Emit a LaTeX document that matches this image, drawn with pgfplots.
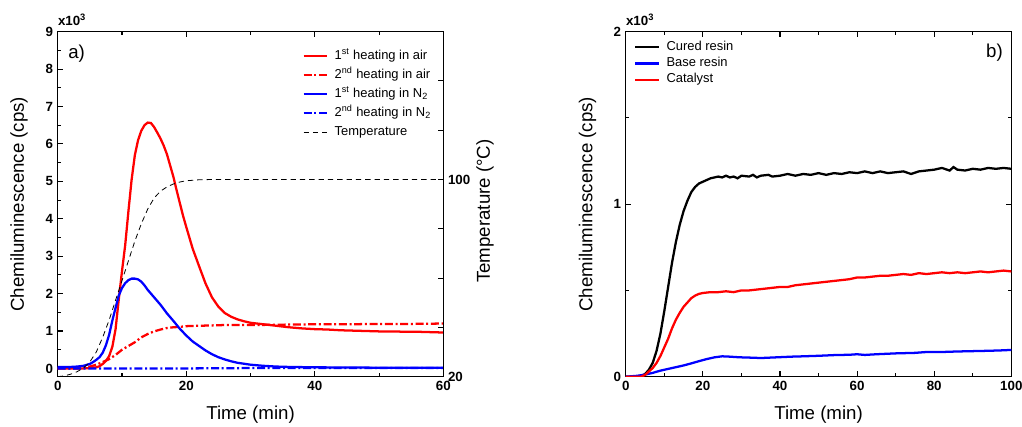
\documentclass[border=0pt]{standalone}
\usepackage{fontspec}
\setmainfont{Liberation Sans}
\usepackage{pgfplots}
\pgfplotsset{compat=1.18}

\pgfplotsset{
  panel/.style={
    scale only axis, width=289.2pt, height=258.75pt,
    tick align=inside,
    major tick length=4pt, minor tick length=2.5pt,
    every tick/.style={black, line width=0.8pt},
    axis line style={line width=0.8pt},
    every tick label/.append style={font=\fontsize{10}{11}\selectfont\bfseries},
    /pgf/number format/assume math mode=true,
    label style={font=\fontsize{14}{16}\selectfont},
    legend cell align=left,
    legend image code/.code={\draw[##1] (0pt,0pt) -- (17.5pt,0pt); \path (22.5pt,0pt);},
  },
}

\begin{document}
\begin{tikzpicture}
\path[use as bounding box] (0,0) rectangle (766.5pt,319.5pt);

% ---- a) ----
\begin{axis}[panel, name=L, at={(43.3pt,37pt)}, anchor=south west,
  xmin=0, xmax=60, ymin=-0.22, ymax=9,
  xtick={0,20,40,60}, xticklabels={\textbf{0},\textbf{20},\textbf{40},\textbf{60}},
  minor xtick={10,30,50},
  ytick={0,...,9},
  yticklabels={\textbf{0},\textbf{1},\textbf{2},\textbf{3},\textbf{4},\textbf{5},\textbf{6},\textbf{7},\textbf{8},\textbf{9}},
  minor ytick={0.5,1.5,...,8.5},
  ytick pos=left,
  xlabel={Time (min)}, ylabel={Chemiluminescence (cps)},
  xlabel style={at={(axis description cs:0.5,-0.109)}, anchor=center},
  ylabel style={at={(axis description cs:-0.1,0.5)}, anchor=center},
  legend style={draw=none, fill=none, at={(0.634,0.958)}, anchor=north west,
    font=\fontsize{9.7}{11}\selectfont, row sep=0pt, inner sep=0pt,
    nodes={inner sep=0pt, text height=9.5pt, text depth=4.75pt}},
]
\addplot[red, line width=1.7pt] coordinates {
(0,0.0)(2,0.0)(4,0.0)(5,0.01)(6,0.03)(6.5,0.06)(7,0.12)(7.5,0.2)(8,0.33)(8.5,0.58)
(9,1.05)(9.5,1.85)(10,2.6)(10.5,3.3)(11,4.2)(11.5,5.05)(12,5.7)(12.5,6.1)(13,6.35)
(13.5,6.5)(14,6.57)(14.5,6.56)(15,6.45)(15.5,6.3)(16,6.14)(16.5,5.95)(17,5.72)
(17.5,5.42)(18,5.12)(18.5,4.76)(19,4.42)(19.5,4.08)(20,3.78)(21,3.2)(22,2.73)
(23,2.27)(24,1.9)(25,1.65)(26,1.48)(27,1.38)(28,1.31)(29,1.26)(30,1.22)(31,1.2)
(32,1.18)(34,1.14)(36,1.1)(38,1.07)(40,1.05)(42,1.04)(44,1.02)(46,1.01)(48,1.0)
(50,0.99)(52,0.99)(54,0.98)(56,0.98)(58,0.97)(60,0.96)};
\addlegendentry{1\textsuperscript{st} heating in air}
\addplot[red, line width=1.7pt, dash pattern=on 6pt off 2pt on 1.5pt off 2pt] coordinates {
(0,0.0)(3,0.0)(4,0.02)(5,0.05)(6,0.1)(7,0.17)(8,0.25)(9,0.36)(10,0.5)(11,0.6)
(12,0.7)(13,0.83)(14,0.92)(15,0.99)(16,1.04)(17,1.08)(18,1.1)(19,1.11)(20,1.13)
(22,1.14)(24,1.15)(26,1.16)(30,1.16)(35,1.17)(40,1.18)(45,1.18)(50,1.19)(55,1.19)(60,1.2)};
\addlegendentry{2\textsuperscript{nd} heating in air}
\addplot[blue, line width=1.7pt] coordinates {
(0,0.04)(2,0.04)(3,0.05)(4,0.07)(5,0.12)(5.5,0.17)(6,0.23)(6.5,0.3)(7,0.42)(7.5,0.62)
(8,0.9)(8.5,1.28)(9,1.62)(9.5,1.95)(10,2.15)(10.5,2.28)(11,2.36)(11.5,2.4)(12,2.4)
(12.5,2.38)(13,2.32)(13.5,2.22)(14,2.1)(15,1.9)(16,1.7)(17,1.47)(18,1.27)(19,1.06)
(20,0.88)(21,0.72)(22,0.6)(23,0.48)(24,0.38)(25,0.3)(26,0.24)(27,0.19)(28,0.15)
(30,0.1)(32,0.07)(34,0.05)(36,0.04)(40,0.03)(45,0.025)(50,0.02)(55,0.02)(60,0.02)};
\addlegendentry{1\textsuperscript{st} heating in N\textsubscript{2}}
\addplot[blue, line width=1.7pt, dash pattern=on 6pt off 2pt on 1.5pt off 2pt] coordinates {
(0,0.0)(10,0.0)(20,0.0)(30,0.01)(40,0.01)(50,0.01)(60,0.01)};
\addlegendentry{2\textsuperscript{nd} heating in N\textsubscript{2}}
\addlegendimage{black, line width=0.6pt, dash pattern=on 4pt off 3pt}
\addlegendentry{Temperature}
\end{axis}

\begin{axis}[panel, at={(43.3pt,37pt)}, anchor=south west,
  xmin=0, xmax=60, ymin=20, ymax=160,
  axis x line=none, axis y line*=right,
  ytick={20,40,...,160}, yticklabels={\textbf{20},,,,\textbf{100},,,},
  ylabel={Temperature (°C)},
  ylabel style={at={(axis description cs:1.108,0.48)}, anchor=center},
]
\addplot[black, line width=0.6pt, dash pattern=on 4pt off 3pt] coordinates {
(0,20)(1,20.3)(2,21)(3,22)(4,23.5)(5,26)(6,30)(7,36)(8,43)(9,51)(10,59)(11,67)
(12,75)(13,82)(14,88)(15,92.5)(16,95.3)(17,97)(18,98.2)(19,99)(20,99.5)(22,99.9)
(24,100)(60,100)};
\end{axis}

\node[anchor=base west, inner sep=0pt, font=\fontsize{10}{11}\selectfont\bfseries]
  at ([yshift=4.5pt]L.north west) {x10\textsuperscript{3}};
\node[anchor=west, inner sep=0pt, font=\fontsize{14}{15}\selectfont]
  at ([xshift=7.7pt,yshift=-16.4pt]L.north west) {a)};

% ---- b) ----
\begin{axis}[panel, name=R, at={(469.3pt,37pt)}, anchor=south west,
  xmin=0, xmax=100, ymin=0, ymax=2,
  xtick={0,20,...,100},
  xticklabels={\textbf{0},\textbf{20},\textbf{40},\textbf{60},\textbf{80},\textbf{100}},
  minor xtick={10,30,...,90},
  ytick={0,1,2}, yticklabels={\textbf{0},\textbf{1},\textbf{2}},
  minor ytick={0.5,1.5},
  xlabel={Time (min)}, ylabel={Chemiluminescence (cps)},
  xlabel style={at={(axis description cs:0.5,-0.109)}, anchor=center},
  ylabel style={at={(axis description cs:-0.099,0.5)}, anchor=center},
  legend style={draw=none, fill=none, at={(0.0215,0.979)}, anchor=north west,
    font=\fontsize{9.7}{11}\selectfont, row sep=0pt, inner sep=0pt,
    nodes={inner sep=0pt, text height=8.5pt, text depth=3.65pt}},
]
\addplot[black, line width=1.7pt] coordinates {
(0,0.0)(2,0.0)(4,0.005)(5,0.015)(6,0.04)(7,0.08)(8,0.15)(9,0.25)(10,0.38)(11,0.52)
(12,0.66)(13,0.78)(14,0.88)(15,0.96)(16,1.02)(17,1.07)(18,1.1)(19,1.12)(20,1.13)
(21,1.14)(22,1.15)(23,1.155)(24,1.16)(25,1.155)(26,1.165)(27,1.155)(28,1.16)
(29,1.15)(30,1.165)(32,1.16)(33,1.17)(34,1.155)(35,1.165)(37,1.17)(38,1.16)
(40,1.165)(42,1.175)(44,1.165)(46,1.175)(48,1.17)(50,1.18)(52,1.17)(54,1.18)
(56,1.175)(58,1.185)(60,1.18)(62,1.19)(64,1.18)(66,1.19)(68,1.18)(70,1.185)
(72,1.19)(74,1.175)(76,1.19)(78,1.195)(80,1.2)(82,1.21)(84,1.195)(85,1.215)
(86,1.2)(88,1.195)(90,1.205)(92,1.2)(94,1.21)(96,1.205)(98,1.21)(100,1.205)};
\addlegendentry{Cured resin}
\addplot[blue, line width=1.7pt] coordinates {
(0,0.0)(3,0.005)(5,0.012)(7,0.022)(9,0.035)(11,0.045)(13,0.055)(15,0.065)(17,0.077)
(19,0.09)(21,0.102)(23,0.112)(25,0.118)(27,0.116)(29,0.113)(31,0.111)(33,0.11)
(35,0.108)(37,0.11)(40,0.113)(43,0.116)(46,0.118)(50,0.121)(54,0.125)(58,0.127)
(60,0.13)(62,0.126)(65,0.13)(70,0.135)(75,0.138)(78,0.143)(82,0.143)(86,0.146)
(90,0.148)(94,0.15)(97,0.152)(100,0.155)};
\addlegendentry{Base resin}
\addplot[red, line width=1.7pt] coordinates {
(0,0.0)(4,0.0)(5,0.01)(6,0.03)(7,0.05)(8,0.08)(9,0.12)(10,0.17)(11,0.22)(12,0.28)
(13,0.33)(14,0.37)(15,0.405)(16,0.43)(17,0.455)(18,0.47)(19,0.48)(20,0.485)(22,0.49)
(24,0.49)(26,0.495)(28,0.49)(30,0.5)(32,0.5)(34,0.505)(36,0.51)(38,0.515)(40,0.52)
(42,0.52)(44,0.53)(46,0.535)(48,0.54)(50,0.545)(52,0.55)(54,0.555)(56,0.56)
(58,0.565)(60,0.575)(62,0.575)(64,0.58)(66,0.585)(68,0.585)(70,0.59)(72,0.595)
(74,0.59)(76,0.6)(78,0.595)(80,0.6)(82,0.605)(84,0.6)(86,0.605)(88,0.6)(90,0.605)
(92,0.61)(94,0.605)(96,0.61)(98,0.615)(100,0.61)};
\addlegendentry{Catalyst}
\end{axis}

\node[anchor=base west, inner sep=0pt, font=\fontsize{10}{11}\selectfont\bfseries]
  at ([yshift=4.5pt]R.north west) {x10\textsuperscript{3}};
\node[anchor=east, inner sep=0pt, font=\fontsize{14}{15}\selectfont]
  at ([xshift=-6.2pt,yshift=-15.6pt]R.north east) {b)};
\end{tikzpicture}
\end{document}
